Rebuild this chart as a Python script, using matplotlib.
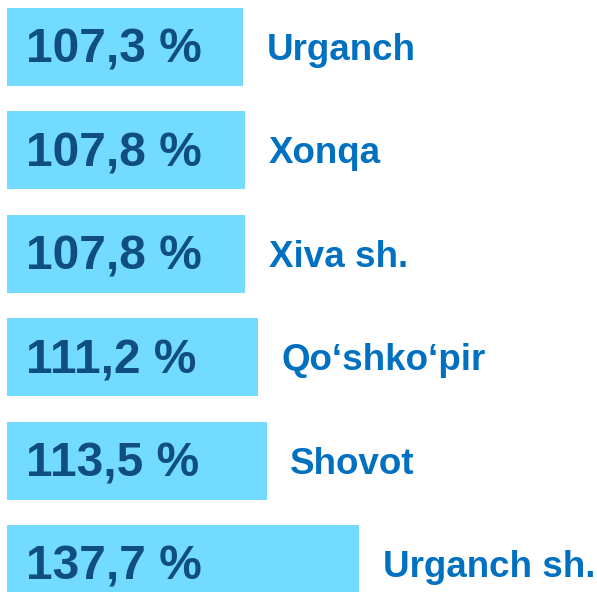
import matplotlib
matplotlib.use("Agg")
import matplotlib.pyplot as plt
import numpy as np

# ---- data ----
districts = ["Urganch", "Xonqa", "Xiva sh.", "Qo\u2018shko\u2018pir", "Shovot", "Urganch sh."]
values = [107.3, 107.8, 107.8, 111.2, 113.5, 137.7]
value_labels = ["107,3 %", "107,8 %", "107,8 %", "111,2 %", "113,5 %", "137,7 %"]

# ---- styling ----
BAR_COLOR = "#72DBFF"
VALUE_COLOR = "#104E82"
NAME_COLOR = "#0070C0"
BASE = 45.3  # common bar origin (data units)

plt.rcParams["font.family"] = ["Liberation Sans", "DejaVu Sans"]

fig = plt.figure(figsize=(5.97, 5.92), dpi=100)
ax = fig.add_axes([0, 0, 1, 1])

y = np.arange(len(values))
lengths = np.array(values) - BASE
ax.barh(y, lengths, left=BASE, height=0.755, color=BAR_COLOR, edgecolor="none")

for yi, v, lab, name in zip(y, values, value_labels, districts):
    ax.annotate(lab, xy=(BASE, yi), xytext=(14, -2.5), textcoords="offset points",
                ha="left", va="center", fontsize=34.5, fontweight="bold",
                color=VALUE_COLOR)
    ax.annotate(name, xy=(v, yi), xytext=(17, -2.5), textcoords="offset points",
                ha="left", va="center", fontsize=26.5, fontweight="bold",
                color=NAME_COLOR)

ax.set_xlim(43.46, 200.2)
ax.set_ylim(5.271, -0.4545)
ax.axis("off")

fig.savefig("out.png", dpi=100, facecolor="white")
